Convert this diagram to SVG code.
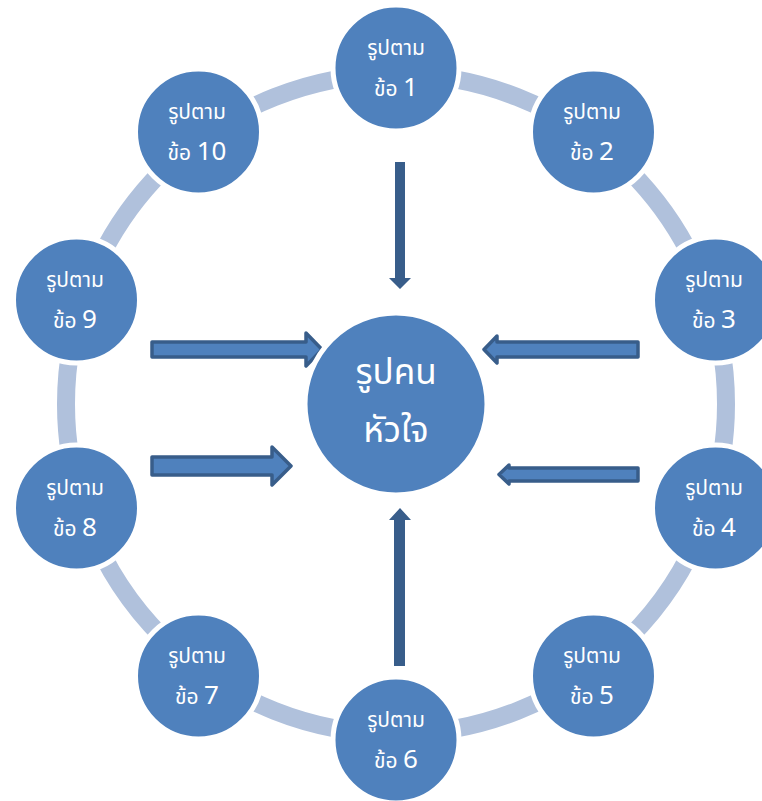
<svg xmlns="http://www.w3.org/2000/svg" width="762" height="801" viewBox="0 0 762 801">
<style>
.node{fill:#4F81BD;stroke:#FFFFFF;stroke-width:5}
.ring{fill:none;stroke:#B0C1DC;stroke-width:18}
.t{font-family:"Noto Sans Thai","Noto Sans","DejaVu Sans",sans-serif;fill:#FFFFFF;text-anchor:middle}
.l1{font-size:21px}
.l2{font-size:21px}
.num{font-family:"Noto Sans","Open Sans",sans-serif;font-size:26px}
.big{font-size:35px}
.solid{fill:#385D8A}
.block{fill:#4F81BD;stroke:#385D8A;stroke-width:3.5;stroke-linejoin:round}
</style>
<rect width="762" height="801" fill="#FFFFFF"/>
<g id="ring">
<circle class="ring" cx="396" cy="404" r="330"/>
</g>
<g id="connectors">
<polygon class="solid" points="395,162 405,162 405,278 411,278 400,289 389,278 395,278"/>
<polygon class="solid" points="394,666 405,666 405,520 411,520 400,508 389,520 394,520"/>
<polygon class="block" points="152,342 306,342 306,333 322,349.5 306,366 306,357 152,357"/>
<polygon class="block" points="152,457 272,457 272,447 291,466 272,485 272,475 152,475"/>
<polygon class="block" points="638,342 497,342 497,336 484,349.5 497,363 497,357 638,357"/>
<polygon class="block" points="638,468 509,468 509,465 499,474.5 509,484 509,481 638,481"/>
</g>
<g id="center">
<circle class="node" cx="396" cy="404" r="91"/>
<text class="t big" x="396" y="384">รูปคน</text>
<text class="t big" x="396" y="442">หัวใจ</text>
</g>
<g id="n1">
<circle class="node" cx="396" cy="68" r="63"/>
<text class="t l1" x="396" y="55">รูปตาม</text>
<text class="t l2" x="396" y="96">ข้อ <tspan class="num">1</tspan></text>
</g>
<g id="n2">
<circle class="node" cx="593.5" cy="132" r="63"/>
<text class="t l1" x="592" y="119">รูปตาม</text>
<text class="t l2" x="592" y="160">ข้อ <tspan class="num">2</tspan></text>
</g>
<g id="n3">
<circle class="node" cx="715.5" cy="300" r="63"/>
<text class="t l1" x="714" y="287">รูปตาม</text>
<text class="t l2" x="714" y="328">ข้อ <tspan class="num">3</tspan></text>
</g>
<g id="n4">
<circle class="node" cx="715.5" cy="508" r="63"/>
<text class="t l1" x="714" y="495">รูปตาม</text>
<text class="t l2" x="714" y="536">ข้อ <tspan class="num">4</tspan></text>
</g>
<g id="n5">
<circle class="node" cx="593.5" cy="676" r="63"/>
<text class="t l1" x="592" y="663">รูปตาม</text>
<text class="t l2" x="592" y="704">ข้อ <tspan class="num">5</tspan></text>
</g>
<g id="n6">
<circle class="node" cx="396" cy="740" r="63"/>
<text class="t l1" x="396" y="727">รูปตาม</text>
<text class="t l2" x="396" y="768">ข้อ <tspan class="num">6</tspan></text>
</g>
<g id="n7">
<circle class="node" cx="198.5" cy="676" r="63"/>
<text class="t l1" x="197" y="663">รูปตาม</text>
<text class="t l2" x="197" y="704">ข้อ <tspan class="num">7</tspan></text>
</g>
<g id="n8">
<circle class="node" cx="76.5" cy="508" r="63"/>
<text class="t l1" x="75" y="495">รูปตาม</text>
<text class="t l2" x="75" y="536">ข้อ <tspan class="num">8</tspan></text>
</g>
<g id="n9">
<circle class="node" cx="76.5" cy="300" r="63"/>
<text class="t l1" x="75" y="287">รูปตาม</text>
<text class="t l2" x="75" y="328">ข้อ <tspan class="num">9</tspan></text>
</g>
<g id="n10">
<circle class="node" cx="198.5" cy="132" r="63"/>
<text class="t l1" x="197" y="119">รูปตาม</text>
<text class="t l2" x="197" y="160">ข้อ <tspan class="num">10</tspan></text>
</g>
</svg>
